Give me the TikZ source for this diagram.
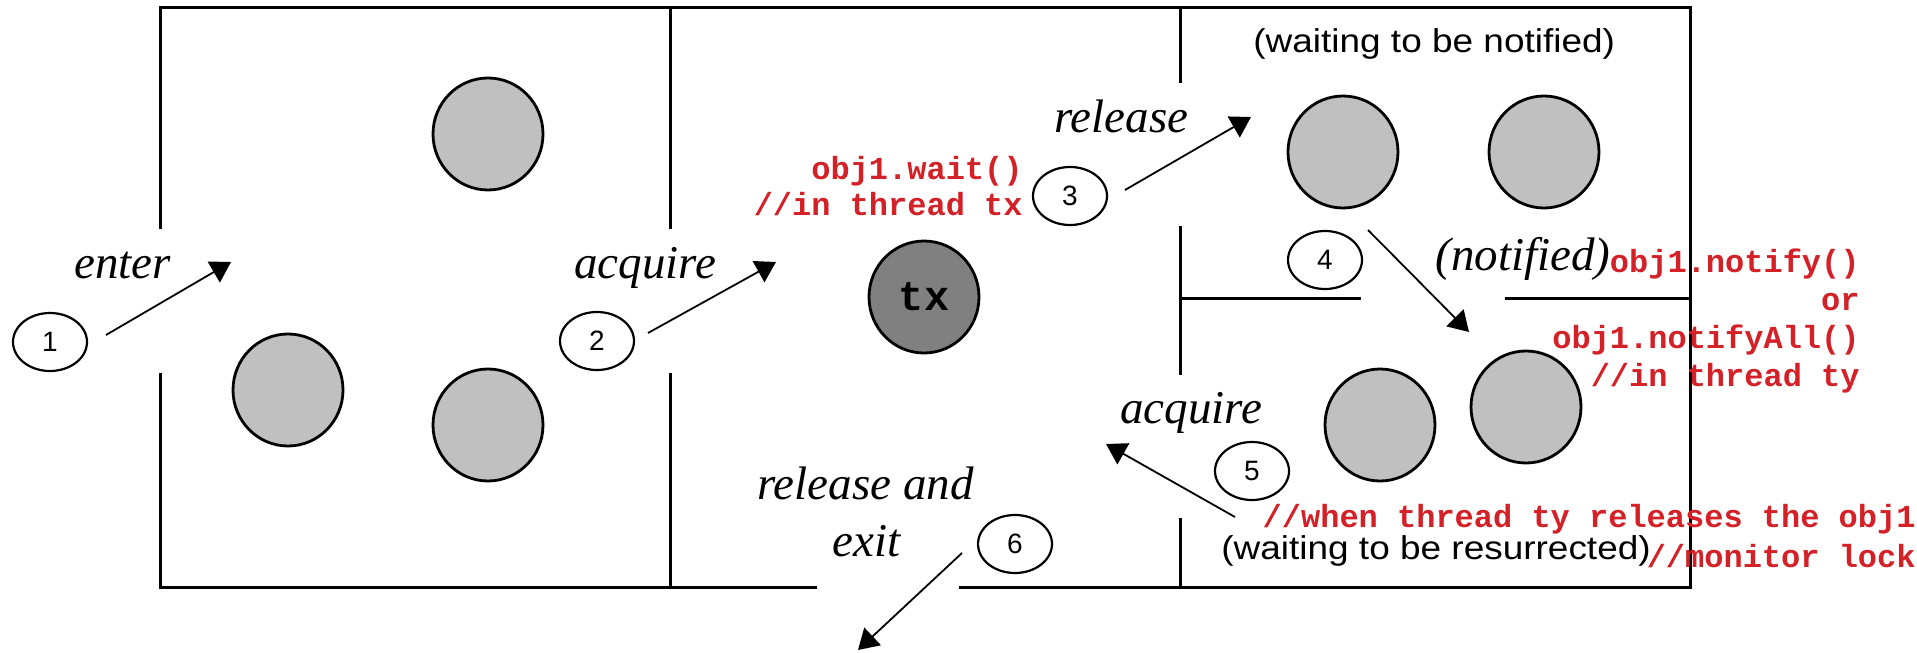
\documentclass[tikz,border=0pt]{standalone}
\usepackage{fontspec}
\setmainfont{Liberation Serif}
\setsansfont{Liberation Sans}
\setmonofont{Liberation Mono}
\newfontfamily\roomfont{Liberation Sans}[FakeStretch=1.12]
\usetikzlibrary{arrows.meta,shapes.geometric}
\definecolor{codered}{RGB}{212,32,39}
\definecolor{threadgray}{RGB}{192,192,192}
\definecolor{activegray}{RGB}{128,128,128}

\begin{document}
\begin{tikzpicture}[x=0.5pt,y=-0.5pt,
  wall/.style={line width=1.5pt, line cap=rect},
  thread/.style={ellipse, draw, line width=1.4pt, fill=threadgray,
    minimum width=55pt, minimum height=56pt, inner sep=0pt},
  active/.style={thread, fill=activegray,
    font=\ttfamily\bfseries\fontsize{21}{21}\selectfont},
  stepnum/.style={ellipse, draw, line width=1.1pt, fill=white,
    minimum width=37pt, minimum height=29pt, inner sep=0pt,
    font=\sffamily\fontsize{14}{14}\selectfont},
  flow/.style={line width=0.9pt, -{Triangle[length=10pt,width=12pt]}},
  action/.style={font=\itshape\fontsize{23.5}{23.5}\selectfont,
    anchor=base west, inner sep=0pt},
  state/.style={font=\roomfont\fontsize{16.5}{16.5}\selectfont,
    anchor=base west, inner sep=0pt},
  code/.style={text=codered, font=\ttfamily\bfseries\fontsize{16}{16}\selectfont,
    anchor=base east, inner sep=0pt},
]
\useasboundingbox (0,0) rectangle (1917,653);

% walls of the monitor: entry set, owner room, wait set
\draw[wall] (160.7,227) -- (160.7,7) -- (1690,7) -- (1690,587) -- (960,587);
\draw[wall] (815,587) -- (160.7,587) -- (160.7,374);
\draw[wall] (670.5,7) -- (670.5,227);
\draw[wall] (670.5,374) -- (670.5,587);
\draw[wall] (1180,7) -- (1180,81);
\draw[wall] (1180,227) -- (1180,373);
\draw[wall] (1180,519) -- (1180,587);
\draw[wall] (1180,298) -- (1359,298);
\draw[wall] (1506,298) -- (1690,298);

% threads
\node[thread] (e1) at (488,134) {};
\node[thread] (e2) at (288,390) {};
\node[thread] (e3) at (488,425) {};
\node[active] (tx) at (924,297) {tx};
\node[thread] (w1) at (1343,152) {};
\node[thread] (w2) at (1544,152) {};
\node[thread] (r1) at (1380,425) {};
\node[thread] (r2) at (1526,407) {};

% numbered steps
\node[stepnum] (s1) at (50,342) {1};
\node[stepnum] (s2) at (597,341) {2};
\node[stepnum] (s3) at (1070,196) {3};
\node[stepnum] (s4) at (1325,260) {4};
\node[stepnum] (s5) at (1252,471) {5};
\node[stepnum] (s6) at (1015,544) {6};

% transitions
\coordinate (f1a) at (106,335);  \coordinate (f1b) at (231,262);
\coordinate (f2a) at (648,333);  \coordinate (f2b) at (776,262);
\coordinate (f3a) at (1125,190); \coordinate (f3b) at (1251,117);
\coordinate (f4a) at (1368,230); \coordinate (f4b) at (1469,332);
\coordinate (f5a) at (1235,517); \coordinate (f5b) at (1106,444);
\coordinate (f6a) at (962,553);  \coordinate (f6b) at (858,650);
\draw[flow] (f1a) -- (f1b);
\draw[flow] (f2a) -- (f2b);
\draw[flow] (f3a) -- (f3b);
\draw[flow] (f4a) -- (f4b);
\draw[flow] (f5a) -- (f5b);
\draw[flow] (f6a) -- (f6b);

% transition labels
\node[action] (tenter) at (74,278) {enter};
\node[action] (tacq1) at (574,278) {acquire};
\node[action] (trel) at (1054,132) {release};
\node[action] (tacq2) at (1120,423) {acquire};
\node[action] (trelx) at (757,499) {release and};
\node[action] (texit) at (832,556) {exit};
\node[action] (tnotif) at (1435,270) {(notified)};

% room labels
\node[state] (lwait) at (1253,53) {(waiting to be notified)};
\node[state] (lres) at (1221,559) {(waiting to be resurrected)};

% code annotations
\node[code] (cw1) at (1023,179) {obj1.wait()};
\node[code] (cw2) at (1023,215) {//in thread tx};
\node[code] (cn1) at (1860,272) {obj1.notify()};
\node[code] (cn2) at (1860,310) {or};
\node[code] (cn3) at (1860,348) {obj1.notifyAll()};
\node[code] (cn4) at (1860,386) {//in thread ty};
\node[code] (cr1) at (1916,527) {//when thread ty releases the obj1};
\node[code] (cr2) at (1916,567) {//monitor lock};
\end{tikzpicture}
\end{document}
